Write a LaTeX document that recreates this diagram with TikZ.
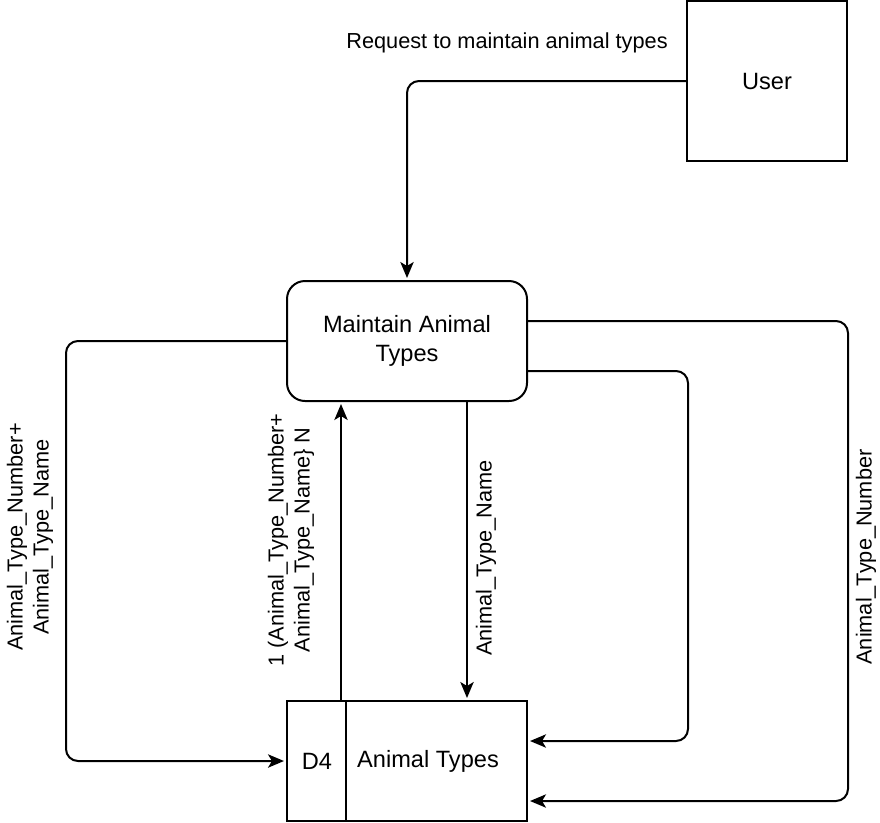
\documentclass[tikz,border=0pt]{standalone}
\usepackage{fontspec}
\setmainfont{Liberation Sans}
\usetikzlibrary{positioning}
\usetikzlibrary{arrows.meta}
\newlength{\px}
\setlength{\px}{0.75pt}
\tikzset{
  flow/.style={-{Stealth[length=12pt,width=10pt,inset=3pt]}, line width=2\px, rounded corners=12\px, shorten >=1.5pt},
  entity/.style={draw, line width=2\px, minimum width=160\px, minimum height=160\px, inner sep=0pt},
  process/.style={draw, line width=2\px, minimum width=240\px, minimum height=120\px, rounded corners=18\px, align=center, inner sep=0pt},
  store/.style={draw, line width=2\px, minimum width=240\px, minimum height=120\px, inner sep=0pt},
  flowlabel/.style={font=\fontsize{16.3pt}{19.5pt}\selectfont, align=center, inner sep=0pt}
}

\begin{document}
\begin{tikzpicture}[font=\fontsize{17.7pt}{21.5pt}\selectfont]
    \useasboundingbox (0,0) rectangle (880\px,-822\px);

    \draw (767\px,-81\px) 
		node[entity] 
			(User) {User};
    \draw (407\px,-341\px) 
		node[process] 
			(Maintain) {Maintain Animal\\Types};
    \draw (407\px,-761\px) 
		node[store] 
			(AnimalTypes) {};
	\draw[line width=2\px] ([xshift=60\px]AnimalTypes.north west) -- ([xshift=60\px]AnimalTypes.south west);
    \draw (317\px,-761\px) node (StoreId) {D4};
    \draw (428\px,-761\px) node (StoreName) {Animal Types};

	% flows
	\draw[flow] (User.west) -| (Maintain.north);
	\draw (507\px,-43\px) node[flowlabel] (RequestLabel) {Request to maintain animal types};

	\draw[flow] (Maintain.west) -- ++(-220\px,0) |- (AnimalTypes.west);
	\draw (30\px,-537\px) node[flowlabel, rotate=90] (WriteLabel) {Animal\_Type\_Number+\\Animal\_Type\_Name};

	\draw[flow] ([xshift=-66\px]AnimalTypes.north) -- ([xshift=-66\px]Maintain.south);
	\draw (291\px,-540\px) node[flowlabel, rotate=90] (ReadLabel) {1 (Animal\_Type\_Number+\\Animal\_Type\_Name\} N};

	\draw[flow] ([xshift=60\px]Maintain.south) -- ([xshift=60\px]AnimalTypes.north);
	\draw (486\px,-558\px) node[flowlabel, rotate=90] (NameLabel) {Animal\_Type\_Name};

	\draw[flow] ([yshift=-30\px]Maintain.east) -- ++(160\px,0) |- ([yshift=20\px]AnimalTypes.east);

	\draw[flow] ([yshift=20\px]Maintain.east) -- ++(320\px,0) |- ([yshift=-40\px]AnimalTypes.east);
	\draw (866\px,-557\px) node[flowlabel, rotate=90] (NumberLabel) {Animal\_Type\_Number};
\end{tikzpicture}
\end{document}
